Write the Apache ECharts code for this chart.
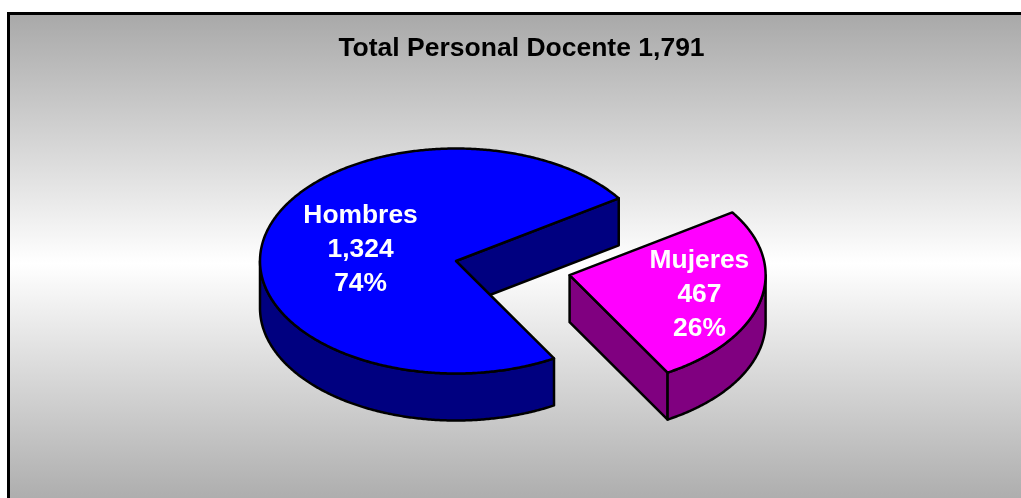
<!DOCTYPE html>
<html>
<head>
<meta charset="utf-8" />
<title>Total Personal Docente</title>
<script src="https://cdn.jsdelivr.net/npm/echarts@6/dist/echarts.min.js"></script>
<style>
  html, body { margin: 0; padding: 0; background: #fff; }
  #chart { width: 1021px; height: 498px; }
</style>
</head>
<body>
<div id="chart"></div>
<script>
const categories = ["Hombres", "Mujeres"];
const personas = [1324, 467];
const percentLabels = ["74%", "26%"];
const totalLabel = "1,791";

const topColors = ["#0000ff", "#ff00ff"];
const sideColors = ["#000080", "#800080"];
const explodes = [0, 0.595]; // separación de la rebanada, en radios
const sliceLift = [0, 1];
const labelRadius = [0.5, 0.68];
const labelShift = [1, 2]; // ajuste vertical de la etiqueta

// elipse de la tapa y altura del pastel
const cx = 456;
const cy = 261;
const rx = 196;
const ry = 112.5;
const depth = 47;
const firstAngle = 150; // grados desde arriba, sentido horario

const total = personas.reduce((a, b) => a + b, 0);
const rad = (d) => (d * Math.PI) / 180;

/** Punto de la elipse, ángulo matemático en grados */
const rim = (o, theta, drop) => [
  o[0] + rx * Math.cos(rad(theta)),
  o[1] - ry * Math.sin(rad(theta)) + drop,
];

/** Arco desde "from" hasta "to", paso de medio grado */
const arc = (o, from, to, drop) => {
  const n = Math.max(2, Math.ceil(Math.abs(to - from) * 2));
  const pts = [];
  for (let i = 0; i <= n; i++) pts.push(rim(o, from + ((to - from) * i) / n, drop));
  return pts;
};

const poly = (points, fill) => ({
  type: "polygon",
  shape: { points },
  style: { fill, stroke: "#000", lineWidth: 2.5, lineJoin: "round" },
});

const renderSlice = (params, api) => {
  const i = params.dataIndex;
  const before = personas.slice(0, i).reduce((a, b) => a + b, 0);
  const span = (api.value(0) / total) * 360;
  const start = 90 - firstAngle - (before / total) * 360;
  const end = start - span;
  const mid = (start + end) / 2;

  const o = [
    cx + explodes[i] * rx * Math.cos(rad(mid)),
    cy - explodes[i] * ry * Math.sin(rad(mid)) - sliceLift[i],
  ];
  const children = [];

  // paredes planas que miran al frente
  if (Math.cos(rad(start)) < 0) {
    const p = rim(o, start, 0);
    children.push(poly([o, p, [p[0], p[1] + depth], [o[0], o[1] + depth]], sideColors[i]));
  }
  if (Math.cos(rad(end)) > 0) {
    const p = rim(o, end, 0);
    children.push(poly([o, p, [p[0], p[1] + depth], [o[0], o[1] + depth]], sideColors[i]));
  }

  // pared curva, solo la mitad delantera
  for (let k = -2; k <= 1; k++) {
    const lo = Math.max(end, -180 + 360 * k);
    const hi = Math.min(start, 360 * k);
    if (lo < hi) {
      children.push(poly(arc(o, hi, lo, 0).concat(arc(o, lo, hi, depth)), sideColors[i]));
    }
  }

  // tapa
  children.push(poly([o].concat(arc(o, start, end, 0)), topColors[i]));

  // etiqueta
  children.push({
    type: "text",
    style: {
      x: o[0] + labelRadius[i] * rx * Math.cos(rad(mid)),
      y: o[1] - labelRadius[i] * ry * Math.sin(rad(mid)) + labelShift[i],
      text: [categories[i], personas[i].toLocaleString("en-US"), percentLabels[i]].join("\n"),
      fill: "#fff",
      font: 'bold 26.4px "Liberation Sans", Arial, sans-serif',
      lineHeight: 34,
      align: "center",
      verticalAlign: "middle",
    },
  });

  return { type: "group", children };
};

const chart = echarts.init(document.getElementById("chart"));
chart.setOption({
  animation: false,
  title: {
    text: "Total Personal Docente " + totalLabel,
    left: 521.5,
    top: 35,
    textAlign: "center",
    padding: 0,
    textStyle: {
      fontFamily: '"Liberation Sans", Arial, sans-serif',
      fontSize: 26.5,
      fontWeight: "bold",
      color: "#000",
    },
  },
  graphic: [
    {
      type: "rect",
      z: -1,
      silent: true,
      shape: { x: 8.5, y: 13.5, width: 1030, height: 500 },
      style: {
        stroke: "#000",
        lineWidth: 3,
        fill: {
          type: "linear",
          x: 0,
          y: 0,
          x2: 0,
          y2: 1,
          colorStops: [
            { offset: 0, color: "#a8a8a8" },
            { offset: 0.5, color: "#ffffff" },
            { offset: 1, color: "#a8a8a8" },
          ],
        },
      },
    },
  ],
  series: [
    {
      type: "custom",
      coordinateSystem: "none",
      renderItem: renderSlice,
      data: personas.map((v) => [v]),
      z: 2,
    },
  ],
});
</script>
</body>
</html>
